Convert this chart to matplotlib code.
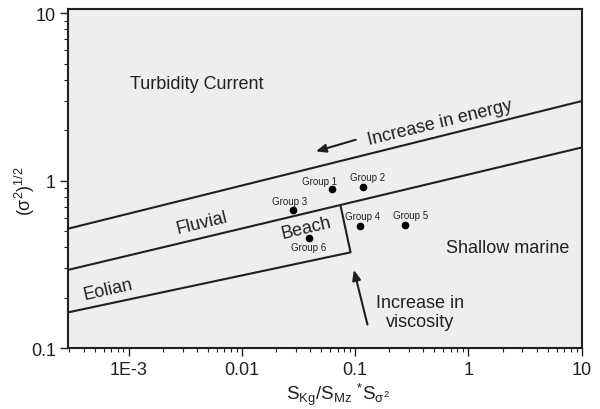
import matplotlib
matplotlib.use("Agg")
import matplotlib.pyplot as plt

plt.rcParams['font.family'] = ['Liberation Sans', 'DejaVu Sans']
plt.rcParams['mathtext.fontset'] = 'custom'
plt.rcParams['mathtext.rm'] = 'Liberation Sans'
plt.rcParams['mathtext.it'] = 'Liberation Sans:italic'
plt.rcParams['mathtext.sf'] = 'Liberation Sans'

# ---- data ----
group_names = ["Group 1", "Group 2", "Group 3", "Group 4", "Group 5", "Group 6"]
group_x = [0.0628, 0.117, 0.0284, 0.1096, 0.275, 0.039]
group_y = [0.895, 0.92, 0.668, 0.534, 0.546, 0.457]

upper_x = [2.93e-4, 10]
upper_y = [0.518, 2.99]
middle_x = [2.93e-4, 10]
middle_y = [0.294, 1.58]
lower_x = [2.93e-4, 0.091, 0.0745]
lower_y = [0.164, 0.374, 0.703]

x_ticks = [1e-3, 0.01, 0.1, 1, 10]
x_ticklabels = ["1E-3", "0.01", "0.1", "1", "10"]
y_ticks = [0.1, 1, 10]
y_ticklabels = ["0.1", "1", "10"]

# label offsets (pixels)
label_dx = [-13, 5, -4, 3, 6, 0]
label_dy = [8, 10, 9, 10, 10, -9]

ink = '#231f20'

fig = plt.figure(figsize=(6, 4.1), dpi=100)
ax = fig.add_axes([0.1138, 0.148, 0.8557, 0.8276])
ax.set_facecolor('#ECEEF0')
ax.set_xscale('log')
ax.set_yscale('log')
ax.set_xlim(2.93e-4, 10)
ax.set_ylim(0.1, 10.6)

lw = 1.5
ax.plot(upper_x, upper_y, color=ink, lw=lw)
ax.plot(middle_x, middle_y, color=ink, lw=lw)
ax.plot(lower_x, lower_y, color=ink, lw=lw)

ax.plot(group_x, group_y, 'o', color='black', ms=4.5, zorder=5)
for n, x, y, dx, dy in zip(group_names, group_x, group_y, label_dx, label_dy):
    ax.annotate(n, (x, y), xytext=(dx, dy), textcoords='offset pixels',
                ha='center', va='center', fontsize=7, color=ink)

fs = 13
ax.text(0.250, 0.779, "Turbidity Current", transform=ax.transAxes, ha='center', va='center', fontsize=fs, color=ink)
ax.text(0.260, 0.371, "Fluvial", transform=ax.transAxes, ha='center', va='center', fontsize=fs, color=ink, rotation=13.5)
ax.text(0.078, 0.175, "Eolian", transform=ax.transAxes, ha='center', va='center', fontsize=fs, color=ink, rotation=12.5)
ax.text(0.464, 0.357, "Beach", transform=ax.transAxes, ha='center', va='center', fontsize=fs, color=ink, rotation=13.5)
ax.text(0.724, 0.666, "Increase in energy", transform=ax.transAxes, ha='center', va='center', fontsize=fs, color=ink, rotation=13.7)
ax.text(0.855, 0.298, "Shallow marine", transform=ax.transAxes, ha='center', va='center', fontsize=fs, color=ink)
ax.text(0.685, 0.106, "Increase in\nviscosity", transform=ax.transAxes, ha='center', va='center', fontsize=fs, color=ink, linespacing=1.15)

ax.annotate("", xy=(0.477, 0.578), xytext=(0.565, 0.617), xycoords='axes fraction', textcoords='axes fraction',
            arrowprops=dict(arrowstyle='-|>,head_length=0.6,head_width=0.25', color=ink, lw=1.5))
ax.annotate("", xy=(0.555, 0.239), xytext=(0.584, 0.062), xycoords='axes fraction', textcoords='axes fraction',
            arrowprops=dict(arrowstyle='-|>,head_length=0.6,head_width=0.25', color=ink, lw=1.5))

ax.set_xticks(x_ticks)
ax.set_xticklabels(x_ticklabels)
ax.set_yticks(y_ticks)
ax.set_yticklabels(y_ticklabels)
ax.tick_params(which='major', direction='out', length=6, width=1, colors=ink, labelsize=13, pad=3)
ax.tick_params(which='minor', direction='out', length=3, width=0.8, colors=ink)
for s in ax.spines.values():
    s.set_color(ink)
    s.set_linewidth(1.5)

ax.set_xlabel(r'$\mathregular{S_{Kg}/S_{Mz}\ {}^{*}S_{\sigma^2}}$', fontsize=13.5, color=ink)
ax.xaxis.set_label_coords(0.525, -0.095)
ax.set_ylabel(r'$\mathregular{(\sigma^2)^{1/2}}$', fontsize=13, color=ink)
ax.yaxis.set_label_coords(-0.06, 0.467)

fig.savefig('out.png', dpi=100, facecolor='white')
